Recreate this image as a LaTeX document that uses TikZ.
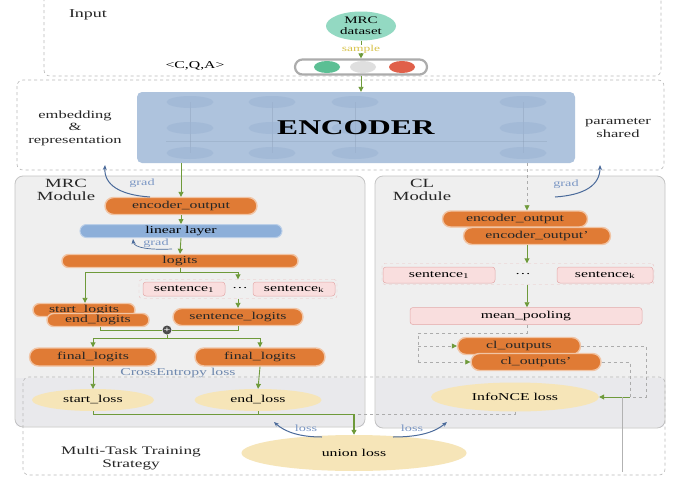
\documentclass[tikz,border=0pt]{standalone}
\usepackage{fontspec}
\setmainfont{Liberation Serif}[FakeStretch=1.5]
\usetikzlibrary{arrows.meta,shapes.geometric,shapes.misc}

\definecolor{orng}{HTML}{E07B35}
\definecolor{linblue}{HTML}{8DAFD9}
\definecolor{encblue}{HTML}{AEC3DD}
\definecolor{encell}{HTML}{9CB4D3}
\definecolor{pinkf}{HTML}{F9DEDE}
\definecolor{pinkd}{HTML}{E3A9A9}
\definecolor{lossy}{HTML}{F6E5B8}
\definecolor{tealf}{HTML}{93D9C2}
\definecolor{modfill}{HTML}{EFEFEF}
\definecolor{modline}{HTML}{C4C4C4}
\definecolor{arrg}{HTML}{6E9A3A}
\definecolor{gradc}{HTML}{4A6A9A}
\definecolor{gradt}{HTML}{7A96C4}
\definecolor{smpl}{HTML}{D8C34A}
\definecolor{qgreen}{HTML}{5CBF94}
\definecolor{qred}{HTML}{E0604A}

\tikzset{
  txt/.style={font=\fontsize{10.5}{12}\selectfont, inner sep=0pt},
  lab/.style={font=\fontsize{11}{12.5}\selectfont, inner sep=0pt, align=center, text=black!85},
  op/.style={rounded rectangle, fill=orng, draw=orng!45, line width=1.4pt,
             text=black!85, font=\fontsize{10.5}{12}\selectfont, inner sep=0pt},
  pinkbox/.style={rectangle, rounded corners=3pt, fill=pinkf, draw=pinkd, line width=0.5pt,
             font=\fontsize{10.5}{12}\selectfont, inner sep=0pt},
  rowframe/.style={rectangle, rounded corners=3pt, draw=pinkd!70, dashed, line width=0.4pt},
  lossell/.style={ellipse, fill=lossy, font=\fontsize{10.5}{12}\selectfont, inner sep=0pt},
  dframe/.style={draw=gray!55, dashed, line width=0.6pt, rounded corners=6pt},
  modbox/.style={fill=modfill, draw=modline, line width=0.8pt, rounded corners=8pt},
  ln/.style={draw=arrg, line width=0.9pt},
  arr/.style={ln, -{Triangle[length=5pt,width=5pt]}},
  dln/.style={draw=gray!65, dashed, line width=0.6pt},
  darr/.style={dln, -{Triangle[length=5pt,width=5pt,color=arrg,fill=arrg]}},
  gradarr/.style={draw=gradc, line width=1pt, -{Stealth[length=5pt,width=4pt]}},
  gradlab/.style={font=\fontsize{9.5}{10}\selectfont, text=gradt, inner sep=0pt},
  cell/.style={ellipse, fill=encell, minimum width=47pt, minimum height=12pt, inner sep=0pt, opacity=0.6},
  qdot/.style={ellipse, minimum width=26pt, minimum height=12pt, inner sep=0pt}
}

\begin{document}
\begin{tikzpicture}[x=1pt,y=-1pt]
\useasboundingbox (0,0) rectangle (673,477);
\fill[white] (0,0) rectangle (673,477);

% ---------- input stage ----------
\draw[dframe] (44,-8) rectangle (661,76);
\node[lab, font=\fontsize{12}{13}\selectfont] (inlab) at (88,15) {Input};
\node[ellipse, fill=tealf, minimum width=70pt, minimum height=29pt, inner sep=0pt,
      align=center, font=\fontsize{10}{11}\selectfont] (ds) at (361,26) {MRC\\dataset};
\node[txt, font=\fontsize{9}{10}\selectfont, text=smpl] (smp) at (361,49) {sample};
\node[rounded rectangle, draw=gray!65, line width=2.2pt, fill=white,
      minimum width=132pt, minimum height=15pt, inner sep=0pt] (cap) at (361,67) {};
\node[qdot, fill=qgreen] (cq1) at (327,67) {};
\node[qdot, fill=gray!25] (cq2) at (363,67) {};
\node[qdot, fill=qred] (cq3) at (402,67) {};
\node[txt] (cqa) at (195,66) {<C,Q,A>};
\draw[ln] (ds) -- (smp);
\draw[arr] (smp) -- (cap);

% ---------- shared encoder ----------
\draw[dframe] (17,80) rectangle (664,170);
\node[lab] (emb) at (75,128) {embedding\\\&\\representation};
\node[lab] (par) at (618,128) {parameter\\shared};
\node[fill=encblue, rounded corners=5pt, minimum width=438pt, minimum height=71pt, inner sep=0pt] (enc) at (356,127.5) {};
\foreach \cx in {190,272,355,523}{
  \draw[encell!80!black, opacity=0.3, line width=0.5pt] (\cx,102) -- (\cx,153);
  \foreach \cy in {102,128,153}{ \node[cell] at (\cx,\cy) {}; }
}
\draw[encell!80!black, opacity=0.25, line width=0.5pt] (166,141) -- (547,141);
\node[font=\fontsize{21}{23}\selectfont\bfseries, inner sep=0pt] (enctxt) at (356,128) {ENCODER};
\draw[arr] (cap.south) -- (cap.south |- enc.north);

% ---------- module panels ----------
\draw[modbox] (15,176) rectangle (365,427);
\draw[modbox] (375,176) rectangle (665,428);
\fill[blue!30!gray, opacity=0.04] (16,378) rectangle (364,426);
\fill[blue!30!gray, opacity=0.04] (376,378) rectangle (664,427);
\draw[dframe] (23,377) rectangle (665,475);
\node[lab, font=\fontsize{12.5}{13}\selectfont] (mrclab) at (66,190) {MRC\\Module};
\node[lab, font=\fontsize{12.5}{13}\selectfont] (cllab) at (422,190) {CL\\Module};

% ---------- MRC branch ----------
\node[op, minimum width=152pt, minimum height=17pt] (eo1) at (181,206) {encoder\_output};
\node[rounded rectangle, fill=linblue, draw=linblue!60, line width=1pt, minimum width=202pt,
      minimum height=13pt, inner sep=0pt, font=\fontsize{10.5}{12}\selectfont] (lin) at (181,231) {linear layer};
\node[op, minimum width=236pt, minimum height=13pt] (lg) at (180,261) {logits};
\node[rowframe, minimum width=198pt, minimum height=19pt] (mrow) at (238,289) {};
\node[pinkbox, minimum width=82pt, minimum height=14pt] (s1) at (184,289) {sentence\textsubscript{1}};
\node[txt] (sdots) at (240,288) {\ldots};
\node[pinkbox, minimum width=82pt, minimum height=14pt] (sk) at (294,289) {sentence\textsubscript{k}};
\node[op, minimum width=102pt, minimum height=13pt] (sl1) at (84,310) {start\_logits};
\node[op, minimum width=102pt, minimum height=13pt] (sl2) at (98,320) {end\_logits};
\node[op, minimum width=130pt, minimum height=17pt] (sentlg) at (238,317) {sentence\_logits};
\node[circle, fill=black!70, minimum size=9pt, inner sep=0pt, text=white,
      font=\fontsize{8}{8}\selectfont\bfseries] (plus) at (167,330) {+};
\node[op, minimum width=127pt, minimum height=18pt] (fl) at (93,357) {final\_logits};
\node[op, minimum width=130pt, minimum height=18pt] (fr) at (260,357) {final\_logits};
\node[txt, text=gradc!80] (celab) at (178,373) {CrossEntropy loss};
\node[lossell, minimum width=122pt, minimum height=22pt] (stl) at (93,400) {start\_loss};
\node[lossell, minimum width=127pt, minimum height=22pt] (enl) at (258,400) {end\_loss};

\coordinate (jm) at (180,272);
\coordinate (jL) at (85,272);
\coordinate (jR) at (238,272);
\coordinate (pL) at (100,330);
\coordinate (pR) at (238,330);
\coordinate (qM) at (167,338);
\coordinate (qL) at (93,338);
\coordinate (qR) at (260,338);

\draw[arr] (eo1 |- enc.south) -- (eo1.north);
\draw[arr] (eo1.south) -- (lin.north);
\draw[arr] (lin.south) -- (lg.north);
\draw[ln] (lg.south) -- (jm);
\draw[ln] (jL) -- (jR);
\draw[arr] (jL) -- (jL |- sl1.north);
\draw[arr] (jR) -- (mrow.north);
\draw[arr] (mrow.south) -- (sentlg.north);
\draw[ln] (sl2.south -| pL) -- (pL) -- (plus.west);
\draw[ln] (plus.east) -- (pR) -- (sentlg.south);
\draw[ln] (plus.south) -- (qM);
\draw[ln] (qL) -- (qR);
\draw[arr] (qL) -- (fl.north);
\draw[arr] (qR) -- (fr.north);
\draw[arr] (fl.south) -- (stl.north);
\draw[arr] (fr.south) -- (enl.north);

% ---------- CL branch ----------
\coordinate (cx) at (527,0);
\node[op, minimum width=145pt, minimum height=16pt] (ceo1) at (515,219) {encoder\_output};
\node[op, minimum width=147pt, minimum height=17pt] (ceo2) at (537,236) {encoder\_output'};
\node[rowframe, minimum width=272pt, minimum height=21pt] (crow) at (518,274) {};
\node[pinkbox, minimum width=112pt, minimum height=16pt] (c1) at (439,275) {sentence\textsubscript{1}};
\node[txt] (cdots) at (523,274) {\ldots};
\node[pinkbox, minimum width=96pt, minimum height=16pt] (ck) at (605,275) {sentence\textsubscript{k}};
\node[pinkbox, minimum width=232pt, minimum height=17pt] (mp) at (526,316) {mean\_pooling};
\node[op, minimum width=123pt, minimum height=17pt] (co1) at (519,346) {cl\_outputs};
\node[op, minimum width=130pt, minimum height=17pt] (co2) at (536,362) {cl\_outputs'};
\node[lossell, minimum width=168pt, minimum height=29pt] (info) at (515,397) {InfoNCE loss};

\coordinate (kM) at (527,333);
\coordinate (kL) at (418,333);
\coordinate (rA) at (646,346);
\coordinate (rB) at (630,362);
\coordinate (rJ) at (630,397);
\coordinate (rD) at (622,397);
\coordinate (rE) at (622,472);

\draw[darr] (enc.south -| cx) -- (ceo1.north -| cx);
\draw[arr] (ceo2.south -| cx) -- (crow.north -| cx);
\draw[arr] (crow.south -| cx) -- (mp.north -| cx);
\draw[dln] (mp.south -| cx) -- (kM) -- (kL) -- (kL |- co2.west);
\draw[darr] (kL |- co1.west) -- (co1.west);
\draw[darr] (kL |- co2.west) -- (co2.west);
\draw[dln] (co1.east) -- (rA) -- (rA |- rJ) -- (rJ);
\draw[dln] (co2.east) -- (rB) -- (rJ);
\draw[arr] (rJ) -- (info.east);
\draw[draw=gray!60, line width=0.5pt] (rD) -- (rE);

% ---------- joint objective ----------
\node[lossell, minimum width=225pt, minimum height=36pt] (union) at (354,453) {union loss};
\node[lab, font=\fontsize{11.5}{13}\selectfont] (mtl) at (131,458) {Multi-Task Training\\Strategy};
\coordinate (uL) at (93,414);
\coordinate (uM) at (354,414);
\draw[ln] (stl.south) -- (uL) -- (uM);
\draw[ln] (enl.south) -- (enl.south |- uM);
\draw[dln] (info.south) -- (info.south |- uM) -- (uM);
\draw[arr, line width=1.6pt] (uM) -- (union.north);

% ---------- gradient / loss feedback ----------
\coordinate (gL0) at (150,197);
\coordinate (gL1) at (105,165);
\coordinate (gR0) at (555,197);
\coordinate (gR1) at (600,165);
\coordinate (gM0) at (172,249);
\coordinate (gM1) at (133,239);
\draw[gradarr] (gL0) .. controls (120,195) and (104,185) .. (gL1);
\node[gradlab] (gradL) at (142,183) {grad};
\draw[gradarr] (gR0) .. controls (585,195) and (600,185) .. (gR1);
\node[gradlab] (gradR) at (566,184) {grad};
\draw[gradarr, line width=0.7pt] (gM0) .. controls (150,250) and (134,248) .. (gM1);
\node[gradlab] (gradM) at (156,243) {grad};
\coordinate (lA0) at (322,437);
\coordinate (lA1) at (274,422);
\coordinate (lB0) at (393,437);
\coordinate (lB1) at (447,422);
\draw[gradarr] (lA0) .. controls (300,437) and (285,432) .. (lA1);
\node[gradlab] (lossL) at (306,428) {loss};
\draw[gradarr] (lB0) .. controls (420,437) and (435,432) .. (lB1);
\node[gradlab] (lossR) at (412,428) {loss};
\end{tikzpicture}
\end{document}
